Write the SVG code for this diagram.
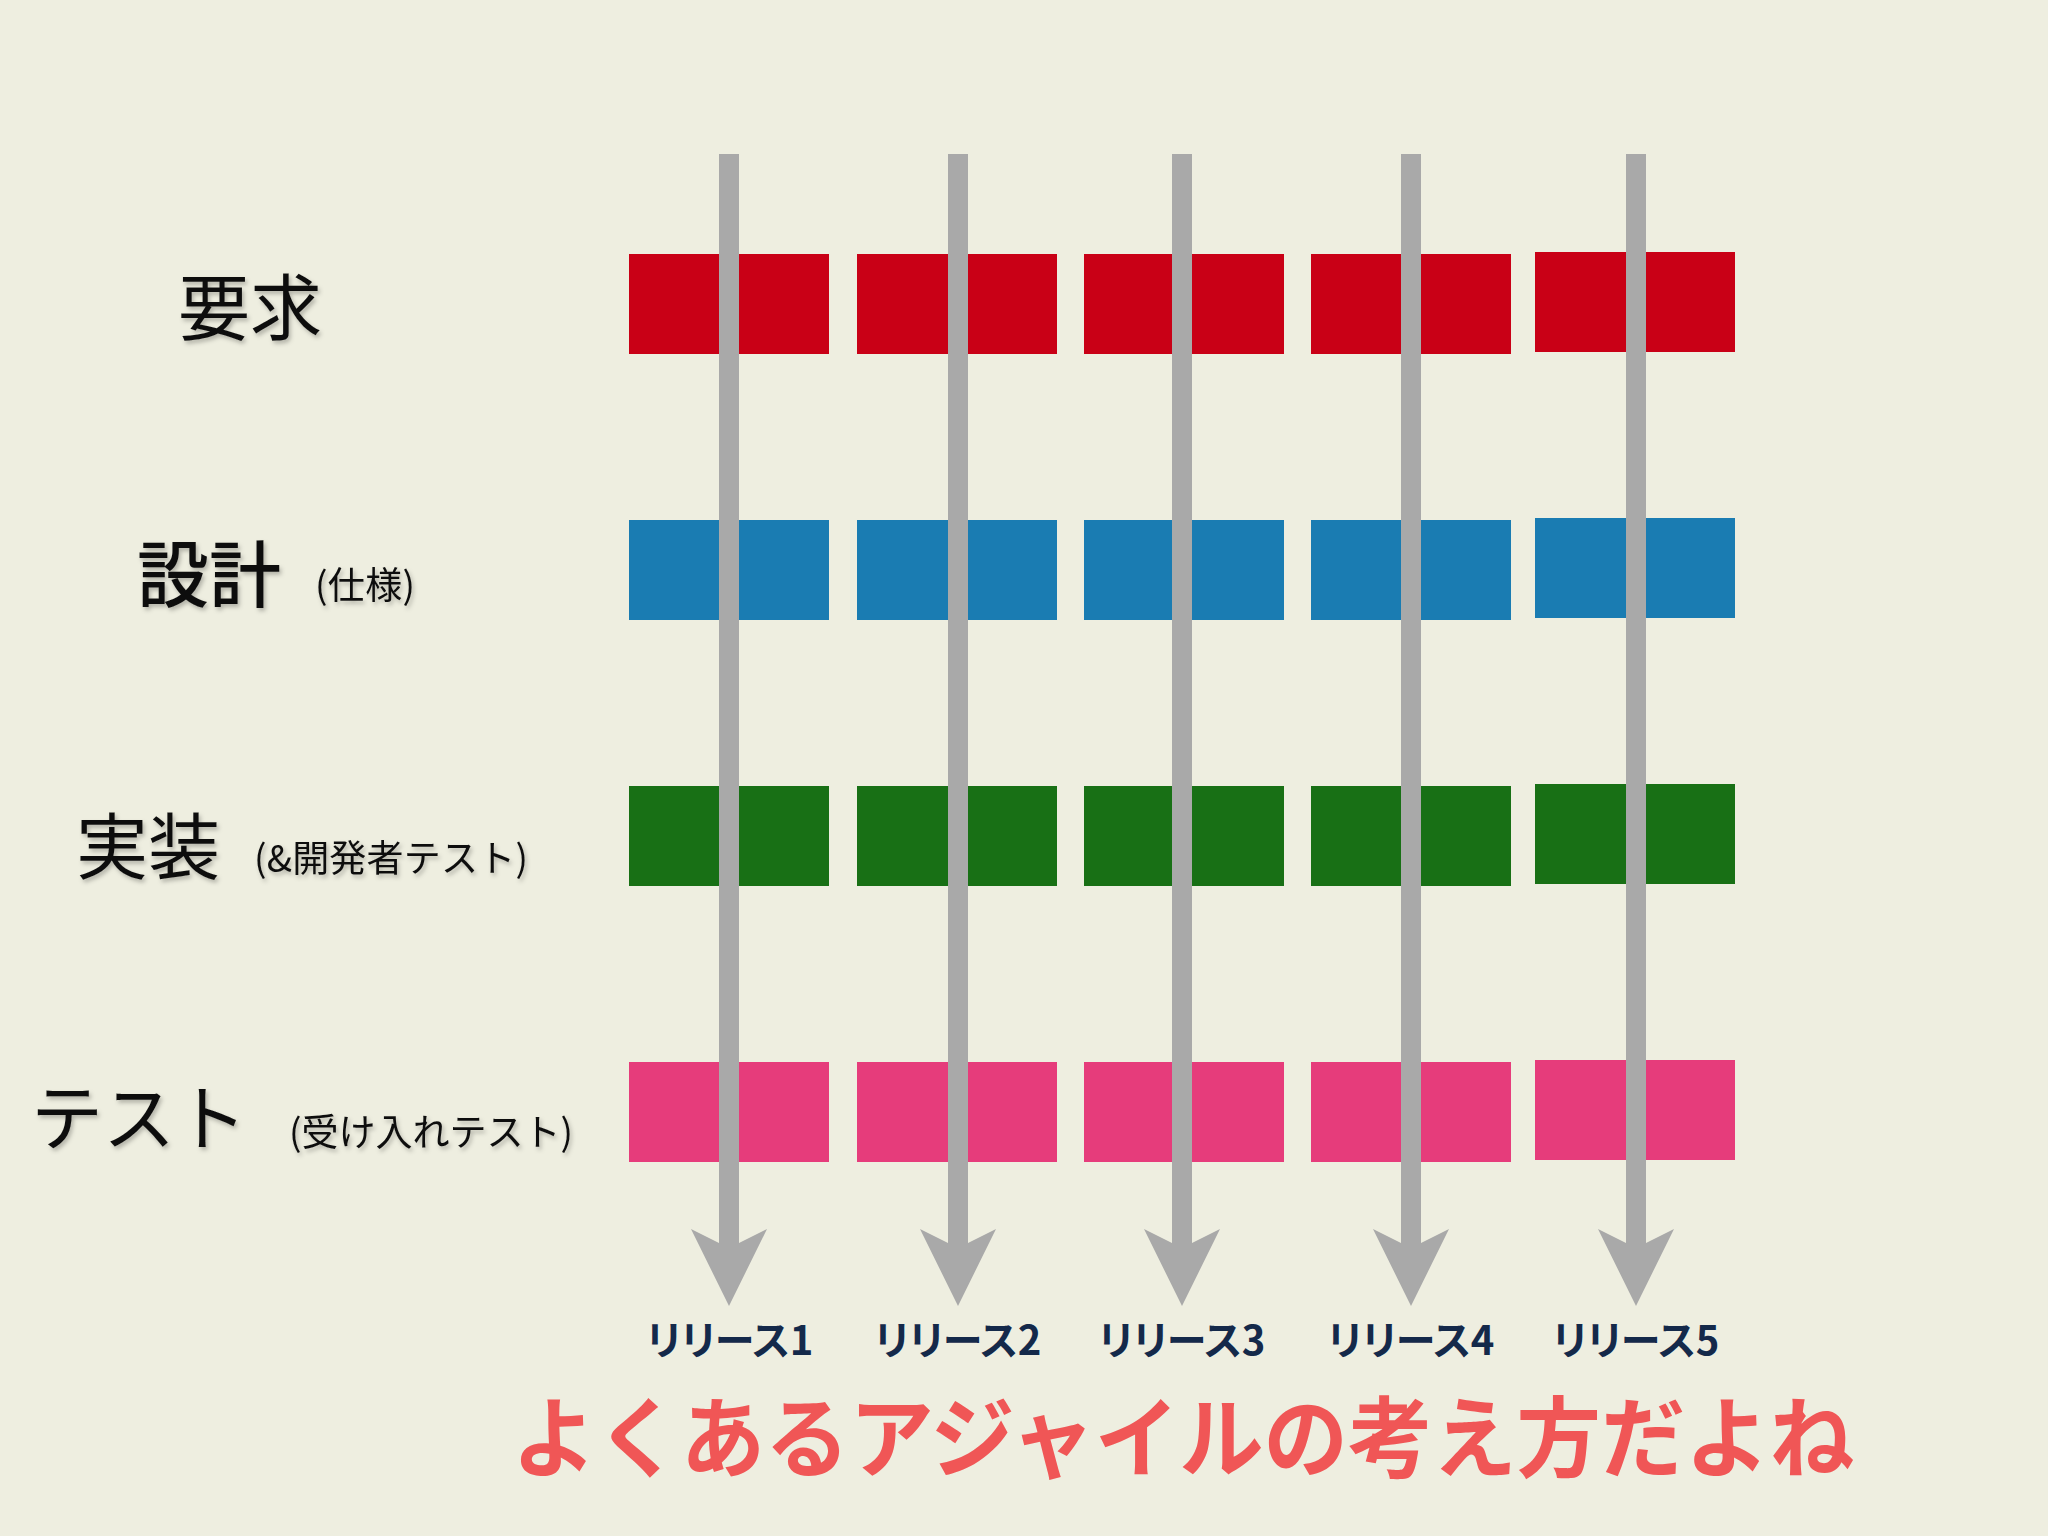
<svg xmlns="http://www.w3.org/2000/svg" width="2048" height="1536" viewBox="0 0 2048 1536">
<defs>
<style>
.bg{fill:#eeeee0}
.r{fill:#c90016}
.b{fill:#1a7cb2}
.g{fill:#187015}
.p{fill:#e63c7b}
.arrow{fill:#a9a9a9}
.lbl{font-family:"Noto Sans CJK JP","Noto Sans",sans-serif;fill:#111;filter:url(#sh)}
.big{font-size:72px}
.small{font-size:37px}
.rel{font-family:"Noto Sans CJK JP","Noto Sans",sans-serif;font-size:40px;font-weight:700;fill:#14294a;text-anchor:middle;font-feature-settings:"palt" 1}
.title{font-family:"Noto Sans CJK JP","Noto Sans",sans-serif;font-size:88px;font-weight:700;fill:#f05656}
</style>
<filter id="sh" x="-10%" y="-20%" width="120%" height="150%">
<feDropShadow dx="2" dy="3" stdDeviation="2" flood-color="#000" flood-opacity="0.25"/>
</filter>
</defs>
<rect class="bg" x="0" y="0" width="2048" height="1536"/>

<g id="row-req">
<rect class="r" x="629" y="254" width="200" height="100"/>
<rect class="r" x="857" y="254" width="200" height="100"/>
<rect class="r" x="1084" y="254" width="200" height="100"/>
<rect class="r" x="1311" y="254" width="200" height="100"/>
<rect class="r" x="1535" y="252" width="200" height="100"/>
</g>
<g id="row-design">
<rect class="b" x="629" y="520" width="200" height="100"/>
<rect class="b" x="857" y="520" width="200" height="100"/>
<rect class="b" x="1084" y="520" width="200" height="100"/>
<rect class="b" x="1311" y="520" width="200" height="100"/>
<rect class="b" x="1535" y="518" width="200" height="100"/>
</g>
<g id="row-impl">
<rect class="g" x="629" y="786" width="200" height="100"/>
<rect class="g" x="857" y="786" width="200" height="100"/>
<rect class="g" x="1084" y="786" width="200" height="100"/>
<rect class="g" x="1311" y="786" width="200" height="100"/>
<rect class="g" x="1535" y="784" width="200" height="100"/>
</g>
<g id="row-test">
<rect class="p" x="629" y="1062" width="200" height="100"/>
<rect class="p" x="857" y="1062" width="200" height="100"/>
<rect class="p" x="1084" y="1062" width="200" height="100"/>
<rect class="p" x="1311" y="1062" width="200" height="100"/>
<rect class="p" x="1535" y="1060" width="200" height="100"/>
</g>

<g id="connectors">
<path class="arrow" d="M719,154 H739 V1243 L767,1229 L729,1306 L691,1229 L719,1243 Z"/>
<path class="arrow" d="M948,154 H968 V1243 L996,1229 L958,1306 L920,1229 L948,1243 Z"/>
<path class="arrow" d="M1172,154 H1192 V1243 L1220,1229 L1182,1306 L1144,1229 L1172,1243 Z"/>
<path class="arrow" d="M1401,154 H1421 V1243 L1449,1229 L1411,1306 L1373,1229 L1401,1243 Z"/>
<path class="arrow" d="M1626,154 H1646 V1243 L1674,1229 L1636,1306 L1598,1229 L1626,1243 Z"/>
</g>

<g id="label-req"><text class="lbl big" x="178" y="334">要求</text></g>
<g id="label-design"><text class="lbl big" x="137" y="601" font-weight="500">設計</text><text class="lbl small" x="315" y="599" textLength="100" lengthAdjust="spacing">(仕様)</text></g>
<g id="label-impl"><text class="lbl big" x="76" y="873">実装</text><text class="lbl small" x="254" y="872" textLength="274" lengthAdjust="spacing">(&amp;開発者テスト)</text></g>
<g id="label-test"><text class="lbl big" x="31" y="1144" font-size="74">テスト</text><text class="lbl small" x="289" y="1146" textLength="284" lengthAdjust="spacing">(受け入れテスト)</text></g>

<g id="releases">
<text class="rel" x="730" y="1355">リリース1</text>
<text class="rel" x="958" y="1355">リリース2</text>
<text class="rel" x="1182" y="1355">リリース3</text>
<text class="rel" x="1411" y="1355">リリース4</text>
<text class="rel" x="1636" y="1355">リリース5</text>
</g>

<g id="title"><text class="title" x="512" y="1470" textLength="1342" lengthAdjust="spacingAndGlyphs">よくあるアジャイルの考え方だよね</text></g>
</svg>
